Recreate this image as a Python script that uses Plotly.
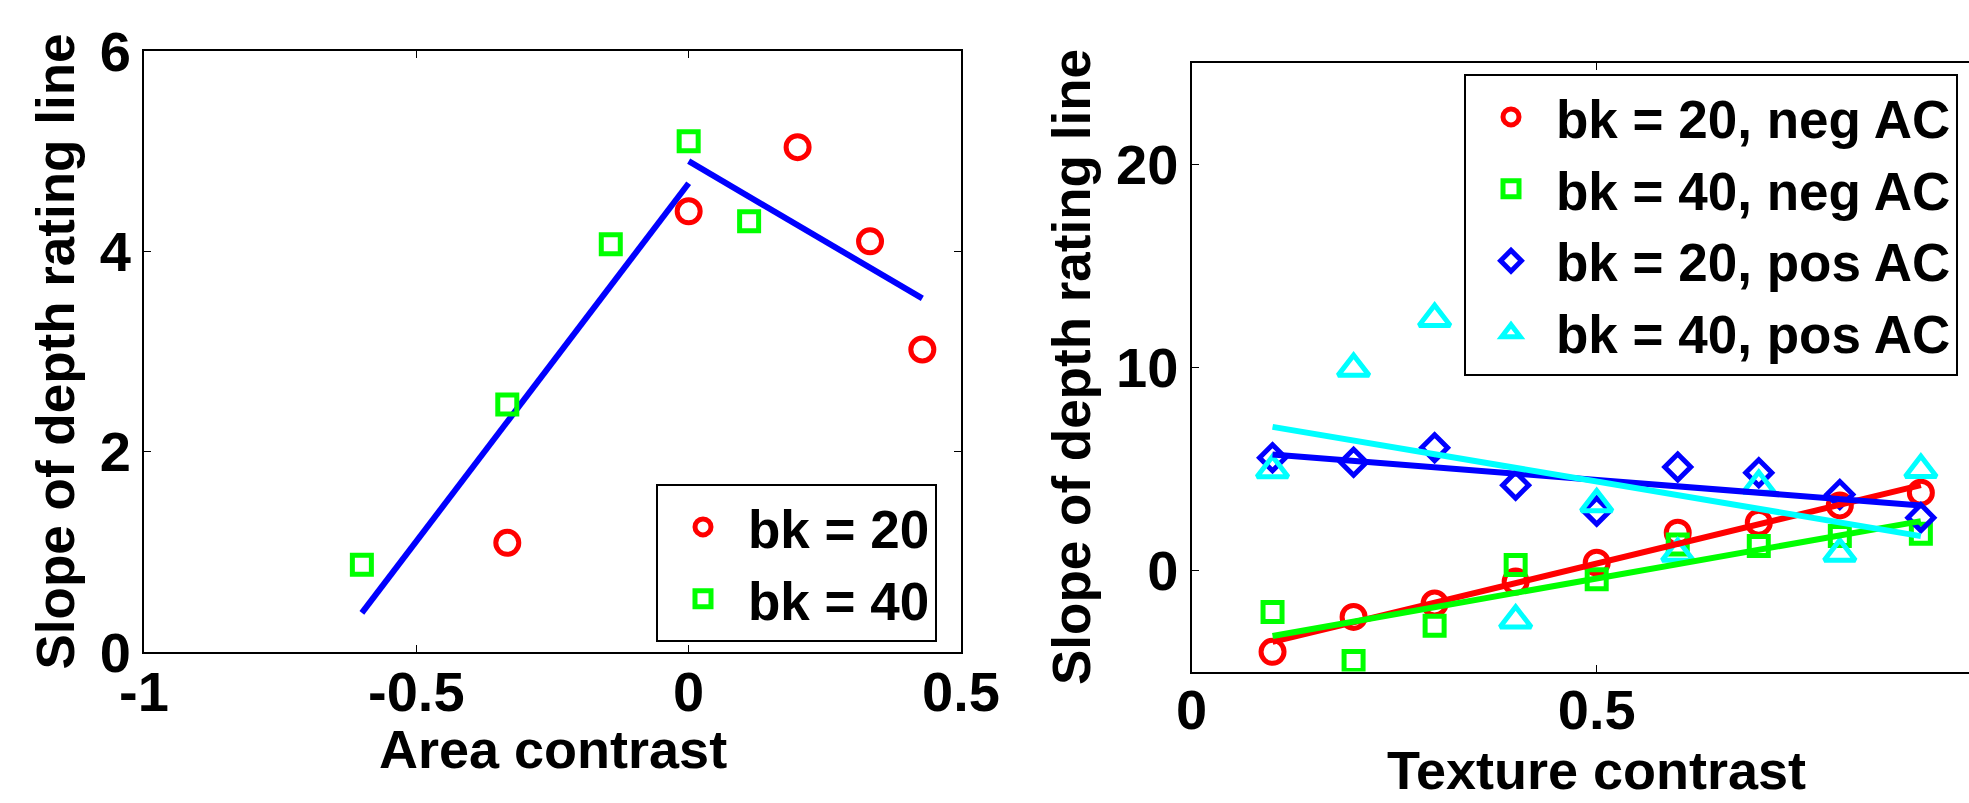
import plotly.graph_objects as go

# ---------------- data ----------------
# Left panel: slope of depth-rating line vs area contrast
area_bk20 = [-0.333, 0.0, 0.2, 0.333, 0.429]
slope_area_bk20 = [1.09, 4.40, 5.04, 4.10, 3.02]
area_bk40 = [-0.6, -0.333, -0.143, 0.0, 0.111]
slope_area_bk40 = [0.87, 2.47, 4.07, 5.10, 4.30]
# fitted lines (negative and positive area contrast)
fit_neg_x = [-0.6, 0.0]
fit_neg_y = [0.39, 4.68]
fit_pos_x = [0.0, 0.429]
fit_pos_y = [4.90, 3.53]

# Right panel: slope vs texture contrast
texture = [0.1, 0.2, 0.3, 0.4, 0.5, 0.6, 0.7, 0.8, 0.9]
bk20_neg = [-4.03, -2.31, -1.65, -0.57, 0.36, 1.84, 2.33, 3.18, 3.81]
bk40_neg = [-2.07, -4.48, -2.75, 0.25, -0.46, 1.26, 1.18, 1.67, 1.79]
bk20_pos = [5.53, 5.31, 6.02, 4.18, 2.90, 5.07, 4.79, 3.72, 2.58]
bk40_pos = [4.93, 9.92, 12.38, -2.48, 3.25, 0.81, 4.16, 0.81, 4.94]
fit_tex_x = [0.1, 0.9]
fit_bk20_neg = [-3.54, 4.18]
fit_bk40_neg = [-3.25, 2.41]
fit_bk20_pos = [5.69, 3.18]
fit_bk40_pos = [7.05, 1.67]

left_xticks = [-1, -0.5, 0, 0.5]
left_xlabels = ["-1", "-0.5", "0", "0.5"]
left_yticks = [0, 2, 4, 6]
right_xticks = [0, 0.5]
right_xlabels = ["0", "0.5"]
right_yticks = [0, 10, 20]

RED, GREEN, BLUE, CYAN = "#FF0000", "#00FF00", "#0000FF", "#00FFFF"
FONT = "Liberation Sans, Arial, sans-serif"
W, H = 1969, 803

fig = go.Figure()


def markers(x, y, name, symbol, color, size, xa, ya, legend):
    fig.add_trace(go.Scatter(
        x=x, y=y, name=name, mode="markers", xaxis=xa, yaxis=ya, legend=legend,
        marker=dict(symbol=symbol, size=size, color=color,
                    line=dict(width=5, color=color)),
    ))


def fitline(x, y, color, xa, ya):
    fig.add_trace(go.Scatter(
        x=x, y=y, mode="lines", xaxis=xa, yaxis=ya, showlegend=False,
        line=dict(color=color, width=6),
    ))


# left panel
fitline(fit_neg_x, fit_neg_y, BLUE, "x", "y")
fitline(fit_pos_x, fit_pos_y, BLUE, "x", "y")
markers(area_bk20, slope_area_bk20, "bk = 20", "circle-open", RED, 23, "x", "y", "legend")
markers(area_bk40, slope_area_bk40, "bk = 40", "square-open", GREEN, 19, "x", "y", "legend")

# right panel
markers(texture, bk20_neg, "bk = 20, neg AC", "circle-open", RED, 23, "x2", "y2", "legend2")
markers(texture, bk40_neg, "bk = 40, neg AC", "square-open", GREEN, 19, "x2", "y2", "legend2")
markers(texture, bk20_pos, "bk = 20, pos AC", "diamond-open", BLUE, 20, "x2", "y2", "legend2")
markers(texture, bk40_pos, "bk = 40, pos AC", "triangle-up-open", CYAN, 27, "x2", "y2", "legend2")
fitline(fit_tex_x, fit_bk20_neg, RED, "x2", "y2")
fitline(fit_tex_x, fit_bk40_neg, GREEN, "x2", "y2")
fitline(fit_tex_x, fit_bk20_pos, BLUE, "x2", "y2")
fitline(fit_tex_x, fit_bk40_pos, CYAN, "x2", "y2")

TICKFONT = dict(family=FONT, size=56, color="black", weight="bold")
TITLEFONT = dict(family=FONT, size=54, color="black", weight="bold")
YTITLEFONT = dict(family=FONT, size=53, color="black", weight="bold")
LEGENDFONT = dict(family=FONT, size=53, color="black", weight="bold")

axis_common = dict(
    showgrid=False, zeroline=False, showline=True, linecolor="black", linewidth=2,
    ticks="inside", ticklen=7, tickwidth=1, tickcolor="black", tickfont=TICKFONT,
)

fig.update_layout(
    width=W, height=H,
    margin=dict(l=0, r=0, t=0, b=0, autoexpand=False),
    paper_bgcolor="white", plot_bgcolor="white",
    xaxis=dict(axis_common, domain=[144 / W, 961 / W], range=[-1, 0.5],
               tickvals=left_xticks, ticktext=left_xlabels, mirror="ticks", anchor="y",
               ticklabelstandoff=-10),
    yaxis=dict(axis_common, domain=[1 - 652 / H, 1 - 51 / H], range=[0, 6],
               tickvals=left_yticks, mirror="ticks", anchor="x",
               title=dict(text="Slope of depth rating line", font=YTITLEFONT, standoff=8)),
    xaxis2=dict(axis_common, domain=[1191.5 / W, 1.0], range=[0, (W - 1191.5) / 810.4],
                tickvals=right_xticks, ticktext=right_xlabels, mirror="ticks", anchor="y2",
                ticklabelstandoff=-12),
    yaxis2=dict(axis_common, domain=[1 - 671.5 / H, 1 - 62.5 / H], range=[-5, 25],
                tickvals=right_yticks, mirror=False, anchor="x2",
                title=dict(text="Slope of depth rating line", font=YTITLEFONT, standoff=8)),
    legend=dict(x=656 / W, xanchor="left", y=1 - 642 / H, yanchor="bottom",
                bgcolor="white", bordercolor="black", borderwidth=2,
                font=LEGENDFONT, itemwidth=80, tracegroupgap=0),
    legend2=dict(x=1464 / W, xanchor="left", y=1 - 74 / H, yanchor="top",
                 bgcolor="white", bordercolor="black", borderwidth=2,
                 font=LEGENDFONT, itemwidth=80, tracegroupgap=0),
    annotations=[
        dict(text="Area contrast", xref="x domain", x=0.5, yref="paper",
             y=1 - 749 / H, yanchor="middle", showarrow=False, font=TITLEFONT),
        dict(text="Texture contrast", xref="x2", x=0.5, yref="paper",
             y=1 - 770 / H, yanchor="middle", showarrow=False, font=TITLEFONT),
    ],
)

fig.write_html("out.html")
